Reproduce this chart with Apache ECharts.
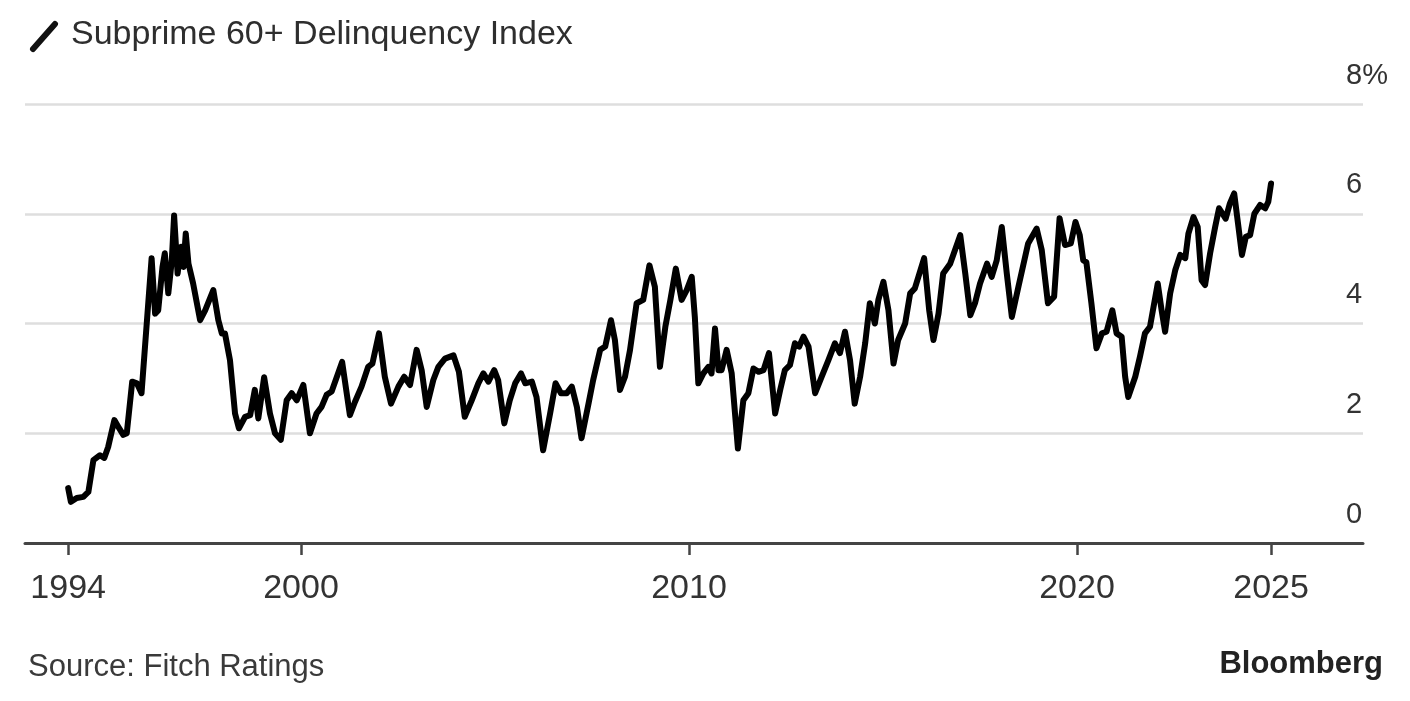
<!DOCTYPE html>
<html>
<head>
<meta charset="utf-8">
<script src="https://cdn.jsdelivr.net/npm/echarts@6/dist/echarts.min.js"></script>
<style>
html,body{margin:0;padding:0;background:#fff;}
#chart{width:1410px;height:701px;}
</style>
</head>
<body>
<div id="chart"></div>
<script>
// Decimal years and index values (%)
var years = [
  1994.00, 1994.07, 1994.22, 1994.39, 1994.52, 1994.65, 1994.82, 1994.93, 1995.03, 1995.19,
  1995.29, 1995.42, 1995.51, 1995.65, 1995.77, 1995.89, 1996.15, 1996.24, 1996.32, 1996.43,
  1996.49, 1996.58, 1996.67, 1996.73, 1996.82, 1996.91, 1996.97, 1997.03, 1997.10, 1997.22,
  1997.40, 1997.53, 1997.74, 1997.87, 1997.96, 1998.04, 1998.17, 1998.30, 1998.40, 1998.56,
  1998.69, 1998.81, 1998.90, 1999.05, 1999.20, 1999.33, 1999.48, 1999.63, 1999.76, 1999.89,
  2000.06, 2000.23, 2000.40, 2000.53, 2000.66, 2000.79, 2001.06, 2001.26, 2001.39, 2001.56,
  2001.73, 2001.84, 2002.01, 2002.16, 2002.32, 2002.51, 2002.66, 2002.81, 2002.98, 2003.11,
  2003.24, 2003.41, 2003.54, 2003.71, 2003.93, 2004.07, 2004.22, 2004.40, 2004.57, 2004.70,
  2004.83, 2004.98, 2005.08, 2005.24, 2005.38, 2005.52, 2005.67, 2005.78, 2005.95, 2006.07,
  2006.24, 2006.42, 2006.56, 2006.70, 2006.85, 2006.98, 2007.11, 2007.23, 2007.41, 2007.53,
  2007.71, 2007.84, 2007.99, 2008.09, 2008.22, 2008.35, 2008.48, 2008.65, 2008.82, 2008.98,
  2009.12, 2009.25, 2009.39, 2009.52, 2009.66, 2009.81, 2009.94, 2010.07, 2010.15, 2010.24,
  2010.37, 2010.50, 2010.58, 2010.67, 2010.76, 2010.84, 2010.97, 2011.10, 2011.26, 2011.40,
  2011.53, 2011.66, 2011.79, 2011.92, 2012.06, 2012.22, 2012.35, 2012.47, 2012.60, 2012.73,
  2012.84, 2012.95, 2013.08, 2013.25, 2013.42, 2013.59, 2013.76, 2013.89, 2014.02, 2014.15,
  2014.27, 2014.41, 2014.54, 2014.66, 2014.79, 2014.88, 2015.01, 2015.14, 2015.27, 2015.39,
  2015.57, 2015.70, 2015.82, 2016.06, 2016.19, 2016.30, 2016.43, 2016.55, 2016.73, 2016.99,
  2017.12, 2017.25, 2017.37, 2017.50, 2017.68, 2017.80, 2017.93, 2018.06, 2018.19, 2018.32,
  2018.49, 2018.74, 2018.96, 2019.09, 2019.25, 2019.41, 2019.55, 2019.69, 2019.84, 2019.96,
  2020.07, 2020.16, 2020.24, 2020.37, 2020.50, 2020.64, 2020.76, 2020.91, 2021.02, 2021.15,
  2021.24, 2021.32, 2021.50, 2021.62, 2021.75, 2021.88, 2022.08, 2022.18, 2022.27, 2022.40,
  2022.53, 2022.66, 2022.79, 2022.87, 2023.00, 2023.11, 2023.21, 2023.30, 2023.43, 2023.56,
  2023.66, 2023.83, 2023.94, 2024.05, 2024.16, 2024.25, 2024.35, 2024.46, 2024.57, 2024.72,
  2024.85, 2024.93, 2025.00
];
var delinquency = [
  1.00, 0.75, 0.82, 0.84, 0.93, 1.51, 1.60, 1.55, 1.75, 2.24,
  2.12, 1.97, 2.00, 2.94, 2.91, 2.73, 5.19, 4.18, 4.24, 5.03,
  5.28, 4.55, 5.15, 5.97, 4.91, 5.40, 5.03, 5.64, 5.09, 4.73,
  4.06, 4.24, 4.61, 4.06, 3.82, 3.82, 3.33, 2.36, 2.09, 2.30,
  2.33, 2.79, 2.27, 3.02, 2.36, 2.00, 1.88, 2.60, 2.73, 2.60,
  2.88, 2.00, 2.36, 2.48, 2.70, 2.76, 3.30, 2.33, 2.57, 2.85,
  3.21, 3.27, 3.82, 3.03, 2.54, 2.85, 3.03, 2.88, 3.52, 3.15,
  2.48, 2.97, 3.21, 3.36, 3.42, 3.12, 2.30, 2.60, 2.91, 3.09,
  2.94, 3.15, 2.97, 2.18, 2.60, 2.91, 3.09, 2.91, 2.94, 2.66,
  1.69, 2.36, 2.91, 2.73, 2.73, 2.85, 2.48, 1.91, 2.54, 2.97,
  3.52, 3.58, 4.06, 3.70, 2.79, 3.03, 3.52, 4.37, 4.43, 5.06,
  4.67, 3.21, 3.94, 4.43, 5.00, 4.43, 4.61, 4.85, 4.12, 2.91,
  3.09, 3.21, 3.09, 3.91, 3.15, 3.15, 3.52, 3.09, 1.72, 2.60,
  2.73, 3.18, 3.12, 3.15, 3.46, 2.36, 2.79, 3.15, 3.24, 3.64,
  3.58, 3.76, 3.58, 2.73, 3.03, 3.33, 3.64, 3.46, 3.85, 3.33,
  2.54, 3.03, 3.64, 4.37, 4.00, 4.43, 4.76, 4.24, 3.27, 3.70,
  4.00, 4.55, 4.64, 5.19, 4.24, 3.70, 4.18, 4.91, 5.09, 5.61,
  4.91, 4.15, 4.37, 4.73, 5.09, 4.85, 5.15, 5.76, 4.91, 4.12,
  4.67, 5.46, 5.73, 5.34, 4.37, 4.49, 5.92, 5.43, 5.46, 5.85,
  5.61, 5.15, 5.12, 4.37, 3.55, 3.82, 3.85, 4.24, 3.82, 3.76,
  3.03, 2.66, 3.03, 3.39, 3.82, 3.94, 4.73, 4.24, 3.85, 4.55,
  4.97, 5.25, 5.19, 5.64, 5.94, 5.76, 4.79, 4.70, 5.28, 5.76,
  6.10, 5.91, 6.19, 6.37, 5.76, 5.25, 5.58, 5.61, 6.00, 6.16,
  6.10, 6.22, 6.55
];
var xTickYears = [1994, 2000, 2010, 2020, 2025];
var yTicks = [0, 2, 4, 6, 8];
var titleText = 'Subprime 60+ Delinquency Index';
var sourceText = 'Source: Fitch Ratings';
var brandText = 'Bloomberg';

var seriesData = years.map(function (y, i) { return [y, delinquency[i]]; });
var FONT = '"Liberation Sans", Arial, Helvetica, sans-serif';

var chart = echarts.init(document.getElementById('chart'), null, {renderer: 'canvas'});
chart.setOption({
  backgroundColor: '#ffffff',
  animation: false,
  grid: {left: 25, right: 47, top: 104, bottom: 158, containLabel: false, outerBoundsMode: 'none'},
  xAxis: {
    type: 'value',
    min: 1992.887,
    max: 2027.37,
    splitLine: {show: false},
    axisLine: {show: true, onZero: false, lineStyle: {color: '#444444', width: 3}},
    axisTick: {show: true, customValues: xTickYears, length: 12, lineStyle: {color: '#444444', width: 2.5}},
    axisLabel: {
      show: true, customValues: xTickYears, margin: 29,
      fontSize: 34, fontFamily: FONT, color: '#333333',
      formatter: function (v) { return String(Math.round(v)); }
    }
  },
  yAxis: {
    type: 'value',
    position: 'right',
    min: yTicks[0], max: yTicks[yTicks.length - 1], interval: 2,
    axisLine: {show: false},
    axisTick: {show: false},
    splitLine: {show: true, lineStyle: {color: '#dedede', width: 2.5}},
    axisLabel: {
      show: true, margin: -17, align: 'left',
      verticalAlign: 'bottom', lineHeight: 57,
      fontSize: 29, fontFamily: FONT, color: '#333333',
      formatter: function (v) { return v === 8 ? '8%' : String(v); }
    }
  },
  series: [{
    type: 'line',
    data: seriesData,
    showSymbol: false,
    smooth: false,
    lineStyle: {color: '#000000', width: 6, join: 'round', cap: 'round'},
    z: 5
  }],
  graphic: [
    {type: 'line', shape: {x1: 33, y1: 49, x2: 55, y2: 24},
     style: {stroke: '#111111', lineWidth: 6, lineCap: 'round'}},
    {type: 'text', x: 71, y: 35,
     style: {text: titleText, font: 'normal 34px ' + FONT, fill: '#2e2e2e', textAlign: 'left', textVerticalAlign: 'middle'}},
    {type: 'text', x: 28, y: 667,
     style: {text: sourceText, font: 'normal 31px ' + FONT, fill: '#3a3a3a', textAlign: 'left', textVerticalAlign: 'middle'}},
    {type: 'text', x: 1383, y: 664,
     style: {text: brandText, font: 'bold 31px ' + FONT, fill: '#222222', textAlign: 'right', textVerticalAlign: 'middle'}}
  ]
});
</script>
</body>
</html>
